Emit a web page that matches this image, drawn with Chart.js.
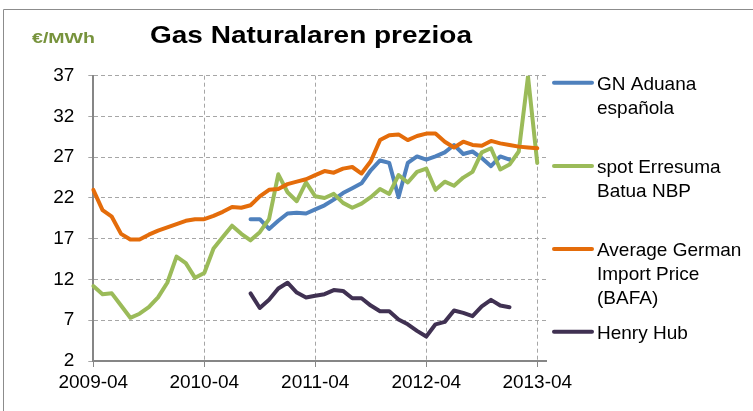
<!DOCTYPE html>
<html>
<head>
<meta charset="utf-8">
<script src="https://cdn.jsdelivr.net/npm/chart.js@4.4.1/dist/chart.umd.min.js"></script>
<style>
  html, body { margin: 0; padding: 0; background: #ffffff; }
  #wrap { position: relative; width: 753px; height: 411px; }
  canvas { display: block; }
</style>
</head>
<body>
<div id="wrap"><canvas id="c" width="753" height="411"></canvas></div>
<script>
// ---- data ----
const months = [
  "2009-04","2009-05","2009-06","2009-07","2009-08","2009-09","2009-10","2009-11","2009-12","2010-01","2010-02","2010-03",
  "2010-04","2010-05","2010-06","2010-07","2010-08","2010-09","2010-10","2010-11","2010-12","2011-01","2011-02","2011-03",
  "2011-04","2011-05","2011-06","2011-07","2011-08","2011-09","2011-10","2011-11","2011-12","2012-01","2012-02","2012-03",
  "2012-04","2012-05","2012-06","2012-07","2012-08","2012-09","2012-10","2012-11","2012-12","2013-01","2013-02","2013-03",
  "2013-04","2013-05"
];
const yearTickLabels = ["2009-04","2010-04","2011-04","2012-04","2013-04"];
const seriesNames = [["GN Aduana","española"],["spot Erresuma","Batua NBP"],["Average German","Import Price","(BAFA)"],["Henry Hub"]];

const gnAduana = [
  null,null,null,null,null,null,null,null,null,null,null,null,
  null,null,null,null,null,19.4,19.4,18.2,19.2,20.1,20.2,20.1,
  20.6,21.1,21.8,22.6,23.2,23.8,25.4,26.6,26.3,22.1,26.3,27.1,
  26.7,27.1,27.6,28.5,27.4,27.7,26.9,25.9,27.1,26.7,null,null,
  null,null
];
const spotNBP = [
  11.2,10.2,10.3,8.8,7.3,7.8,8.6,9.8,11.6,14.8,14.0,12.2,
  12.8,15.8,17.2,18.6,17.6,16.8,17.8,19.4,24.9,22.7,21.6,23.9,
  22.2,22.0,22.5,21.4,20.8,21.3,22.1,23.1,22.5,24.8,23.9,25.2,
  25.6,23.0,24.0,23.5,24.5,25.2,27.6,28.1,25.5,26.1,27.7,36.9,
  26.3,null
];
const bafa = [
  23.0,20.5,19.7,17.6,16.9,16.9,17.5,18.0,18.4,18.8,19.2,19.4,
  19.4,19.8,20.3,20.9,20.8,21.1,22.2,23.0,23.1,23.7,24.0,24.3,
  24.8,25.3,25.1,25.6,25.8,25.0,26.5,29.1,29.7,29.8,29.1,29.6,
  29.9,29.9,28.9,28.2,28.9,28.5,28.4,29.0,28.7,28.5,28.3,28.2,
  28.1,null
];
const henryHub = [
  null,null,null,null,null,null,null,null,null,null,null,null,
  null,null,null,null,null,10.3,8.5,9.5,10.9,11.6,10.4,9.8,
  10.0,10.2,10.7,10.6,9.7,9.7,8.8,8.1,8.1,7.1,6.5,5.7,
  5.0,6.5,6.8,8.2,7.9,7.5,8.7,9.5,8.8,8.6,null,null,
  null,null
];
const yTicks = [2,7,12,17,22,27,32,37];

const colors = ["#4F81BD","#9BBB59","#E46C0A","#403152"];
const FONT = "'Liberation Sans', Arial, Helvetica, sans-serif";

const decor = {
  id: 'decor',
  beforeDraw(chart) {
    const ctx = chart.ctx;
    ctx.save();
    ctx.strokeStyle = '#8c8c8c';
    ctx.lineWidth = 1;
    ctx.beginPath();
    ctx.moveTo(3.5, 411);
    ctx.lineTo(3.5, 9.5);
    ctx.lineTo(753, 9.5);
    ctx.stroke();
    ctx.restore();
  },
  afterDraw(chart) {
    const ctx = chart.ctx;
    ctx.save();
    ctx.textBaseline = 'alphabetic';
    ctx.textAlign = 'left';
    // title
    ctx.fillStyle = '#000000';
    ctx.font = 'bold 24px ' + FONT;
    let t = 'Gas Naturalaren prezioa';
    let w = ctx.measureText(t).width;
    ctx.save();
    ctx.translate(150, 43);
    ctx.scale(322 / w, 1);
    ctx.fillText(t, 0, 0);
    ctx.restore();
    // unit
    ctx.fillStyle = '#77933C';
    ctx.font = 'bold 15px ' + FONT;
    t = '€/MWh';
    w = ctx.measureText(t).width;
    ctx.save();
    ctx.translate(32, 43);
    ctx.scale(Math.max(1, 63 / w), 1);
    ctx.fillText(t, 0, 0);
    ctx.restore();
    // legend
    const lineY = [82.7, 166, 249, 331.7];
    ctx.font = '19px ' + FONT;
    for (let i = 0; i < 4; i++) {
      ctx.strokeStyle = colors[i];
      ctx.lineWidth = 4;
      ctx.lineCap = 'round';
      ctx.beginPath();
      ctx.moveTo(554, lineY[i]);
      ctx.lineTo(592, lineY[i]);
      ctx.stroke();
      ctx.fillStyle = '#000000';
      seriesNames[i].forEach((s, k) => {
        ctx.fillText(s, 597, lineY[i] + 6.8 + k * 24);
      });
    }
    ctx.restore();
  }
};

const mk = (label, data, color, order) => ({
  label, data, borderColor: color, backgroundColor: color,
  borderWidth: 4, pointRadius: 0, pointHoverRadius: 0, tension: 0,
  borderJoinStyle: 'round', borderCapStyle: 'round', spanGaps: false, fill: false, order
});

new Chart(document.getElementById('c'), {
  type: 'line',
  data: {
    labels: months,
    datasets: [
      mk(seriesNames[0].join(' '), gnAduana, colors[0], 4),
      mk(seriesNames[1].join(' '), spotNBP, colors[1], 3),
      mk(seriesNames[2].join(' '), bafa, colors[2], 2),
      mk(seriesNames[3].join(' '), henryHub, colors[3], 1)
    ]
  },
  options: {
    responsive: false,
    animation: false,
    devicePixelRatio: 1,
    layout: { padding: { left: 0, top: 75.7, right: 206.5, bottom: 0 } },
    plugins: { legend: { display: false }, title: { display: false }, tooltip: { enabled: false } },
    scales: {
      x: {
        type: 'category',
        offset: false,
        afterFit(s) { s.height = 50; },
        border: { display: true, color: '#868686', width: 2, dash: [4, 3] },
        grid: {
          color: '#a6a6a6', lineWidth: 1,
          drawTicks: true, tickLength: 6, tickColor: '#868686', tickBorderDash: [],
        },
        ticks: {
          autoSkip: false, maxRotation: 0, minRotation: 0, padding: 4,
          color: '#000000', font: { family: FONT, size: 19 },
          callback(v, i) {
            const lab = months[i];
            return yearTickLabels.includes(lab) ? lab : null;
          }
        }
      },
      y: {
        min: 2, max: 37,
        afterFit(s) { s.width = 93.3; },
        afterBuildTicks(s) { s.ticks = yTicks.map(v => ({ value: v })); },
        border: { display: true, color: '#868686', width: 2, dash: [4, 3] },
        grid: {
          color: '#a6a6a6', lineWidth: 1,
          drawTicks: true, tickLength: 5, tickColor: '#a6a6a6', tickBorderDash: [4, 3]
        },
        ticks: {
          padding: 14, color: '#000000', font: { family: FONT, size: 19 }
        }
      }
    }
  },
  plugins: [decor]
});
</script>
</body>
</html>
